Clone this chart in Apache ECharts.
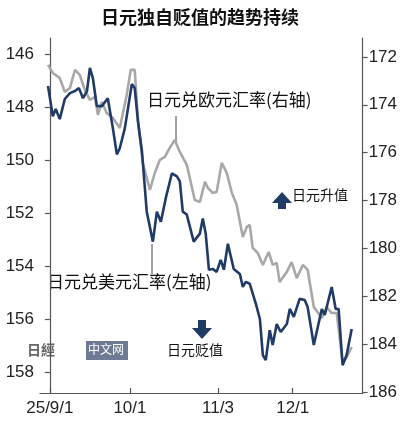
<!DOCTYPE html>
<html>
<head>
<meta charset="utf-8">
<script src="https://cdn.jsdelivr.net/npm/echarts@6/dist/echarts.min.js"></script>
<style>html,body{margin:0;padding:0;background:#fff}#main{width:400px;height:427px}</style>
</head>
<body>
<div id="main"></div>
<script>
//美元兑日元（左轴），x为自9月1日起的天数
var usdDays = [-0.7,1.1,2.2,3.7,5.6,7.5,9.4,10.9,12.4,13.9,15.0,16.1,17.6,19.5,21.7,23.6,25.1,26.2,28.1,30.7,31.8,33.0,34.5,36.3,38.6,40.1,41.6,43.4,45.7,47.6,48.7,49.8,51.3,53.9,56.2,57.3,58.4,59.6,61.0,62.5,64.0,65.2,66.7,68.9,71.2,72.3,73.4,74.9,77.2,78.7,79.8,80.9,82.4,83.5,85.0,86.5,88.8,89.9,91.4,93.6,95.5,96.6,98.9,101.9,103.0,105.6,107.1,108.2,109.7,111.2,113.1];
var usdValues = [147.21,148.35,148.08,148.46,147.70,147.48,147.40,147.29,147.67,147.40,146.53,146.91,147.97,147.97,147.67,148.80,149.79,149.56,148.80,147.14,147.29,148.54,149.67,151.95,153.08,151.95,152.33,151.45,150.51,150.62,150.81,151.95,152.06,153.08,152.78,152.21,152.78,154.14,154.11,154.22,153.77,154.14,153.16,154.11,154.30,154.79,154.60,154.67,155.43,156.00,157.36,157.55,156.42,156.98,156.19,156.49,156.19,155.62,155.92,155.24,155.28,155.55,156.98,155.62,155.85,154.79,155.62,155.62,157.74,157.36,156.38];
//欧元兑日元（右轴）
var eurDays = [-0.7,1.1,3.7,5.6,7.5,9.4,11.2,13.1,15.0,16.9,18.0,19.5,21.3,23.6,26.2,28.8,30.3,31.8,33.0,34.8,37.5,39.3,41.2,43.1,44.9,46.8,48.7,51.3,54.3,56.2,58.1,59.2,61.0,62.5,64.4,66.3,68.2,70.0,72.3,73.8,74.9,76.0,77.9,79.8,82.0,83.5,85.0,86.1,88.8,90.6,92.5,94.8,96.6,98.9,101.9,103.7,105.6,107.5,109.7,111.2,113.1];
var eurValues = [172.33,172.67,172.88,173.46,173.30,172.54,172.75,173.38,173.80,173.67,174.42,173.88,174.34,174.55,174.97,173.59,172.54,172.54,174.63,176.43,177.56,176.85,176.30,176.18,175.80,175.47,175.97,176.51,177.98,178.06,177.22,177.47,177.68,177.64,176.43,176.85,177.68,178.18,179.52,179.10,179.02,179.98,180.19,180.69,180.15,180.69,180.61,181.40,180.98,180.57,181.24,180.69,180.90,182.45,182.91,182.45,182.70,182.70,184.79,184.54,184.12];
//x轴刻度
var xTickDays = [0, 30, 63, 91];
var xTickLabels = ['25/9/1', '10/1', '11/3', '12/1'];
var leftTicks = [146, 148, 150, 152, 154, 156, 158];
var rightTicks = [172, 174, 176, 178, 180, 182, 184, 186];

function pairs(xs, ys) {
    return xs.map(function (x, i) { return [x, ys[i]]; });
}

var chart = echarts.init(document.getElementById('main'), null, {renderer: 'canvas'});
var tickFont = {color: '#222', fontSize: 17, fontFamily: 'Liberation Sans Narrow, Liberation Sans, sans-serif'};
var lineStyle = {color: '#555', width: 1.2};

chart.setOption({
    animation: false,
    title: {
        text: '日元独自贬值的趋势持续',
        left: 'center', top: 3,
        textStyle: {fontSize: 18, fontWeight: 'bold', color: '#111', fontFamily: 'Noto Sans CJK SC'}
    },
    grid: {left: 40, right: 37, top: 38, bottom: 34},
    xAxis: {
        type: 'value', min: -3.7, max: 117.2,
        axisLine: {lineStyle: lineStyle},
        axisTick: {inside: true, length: 5, lineStyle: lineStyle, customValues: xTickDays},
        axisLabel: Object.assign({customValues: xTickDays, margin: 7,
            formatter: function (v) { return xTickLabels[xTickDays.indexOf(v)]; }}, tickFont),
        splitLine: {show: false}
    },
    yAxis: [{
        type: 'value', inverse: true, min: 145.4, max: 158.79, position: 'left',
        axisLine: {show: true, lineStyle: lineStyle},
        axisTick: {show: true, length: 5, lineStyle: lineStyle, customValues: leftTicks},
        axisLabel: Object.assign({customValues: leftTicks, margin: 6}, tickFont),
        splitLine: {show: false}
    }, {
        type: 'value', inverse: true, min: 171.21, max: 186.04, position: 'right',
        axisLine: {show: true, lineStyle: lineStyle},
        axisTick: {show: true, length: 5, lineStyle: lineStyle, customValues: rightTicks},
        axisLabel: Object.assign({customValues: rightTicks, margin: 6}, tickFont),
        splitLine: {show: false}
    }],
    series: [{
        type: 'line', yAxisIndex: 1, data: pairs(eurDays, eurValues),
        symbol: 'none', lineStyle: {color: '#a8a8a8', width: 2.6}
    }, {
        type: 'line', yAxisIndex: 0, data: pairs(usdDays, usdValues),
        symbol: 'none', lineStyle: {color: '#1f3b66', width: 2.6}
    }],
    graphic: [
        {type: 'text', left: 147, top: 91, style: {text: '日元兑欧元汇率(右轴)', fontSize: 17, fill: '#111', fontFamily: 'Noto Sans CJK SC'}},
        {type: 'line', shape: {x1: 176, y1: 116, x2: 176, y2: 142}, style: {stroke: '#444', lineWidth: 1}},
        {type: 'text', left: 47, top: 273, style: {text: '日元兑美元汇率(左轴)', fontSize: 17, fill: '#111', fontFamily: 'Noto Sans CJK SC'}},
        {type: 'line', shape: {x1: 152, y1: 244, x2: 152, y2: 274}, style: {stroke: '#444', lineWidth: 1}},
        {type: 'polygon', shape: {points: [[272, 203], [282, 192], [292, 203], [286, 203], [286, 209], [278, 209], [278, 203]]}, style: {fill: '#1f3b66'}},
        {type: 'text', left: 292, top: 188, style: {text: '日元升值', fontSize: 14, fill: '#111', fontFamily: 'Noto Sans CJK SC'}},
        {type: 'polygon', shape: {points: [[192, 328], [202, 339], [212, 328], [206, 328], [206, 320], [198, 320], [198, 328]]}, style: {fill: '#1f3b66'}},
        {type: 'text', left: 167, top: 343, style: {text: '日元贬值', fontSize: 14, fill: '#111', fontFamily: 'Noto Sans CJK SC'}},
        {type: 'text', left: 27, top: 343, style: {text: '日經', fontSize: 14, fontWeight: 'bold', fill: '#666', fontFamily: 'Noto Sans CJK SC'}},
        {type: 'rect', shape: {x: 86, y: 341, width: 42, height: 19}, style: {fill: '#6e7a94'}},
        {type: 'text', left: 88, top: 343, style: {text: '中文网', fontSize: 12, fill: '#fff', fontFamily: 'Noto Sans CJK SC'}}
    ]
});
</script>
</body>
</html>
